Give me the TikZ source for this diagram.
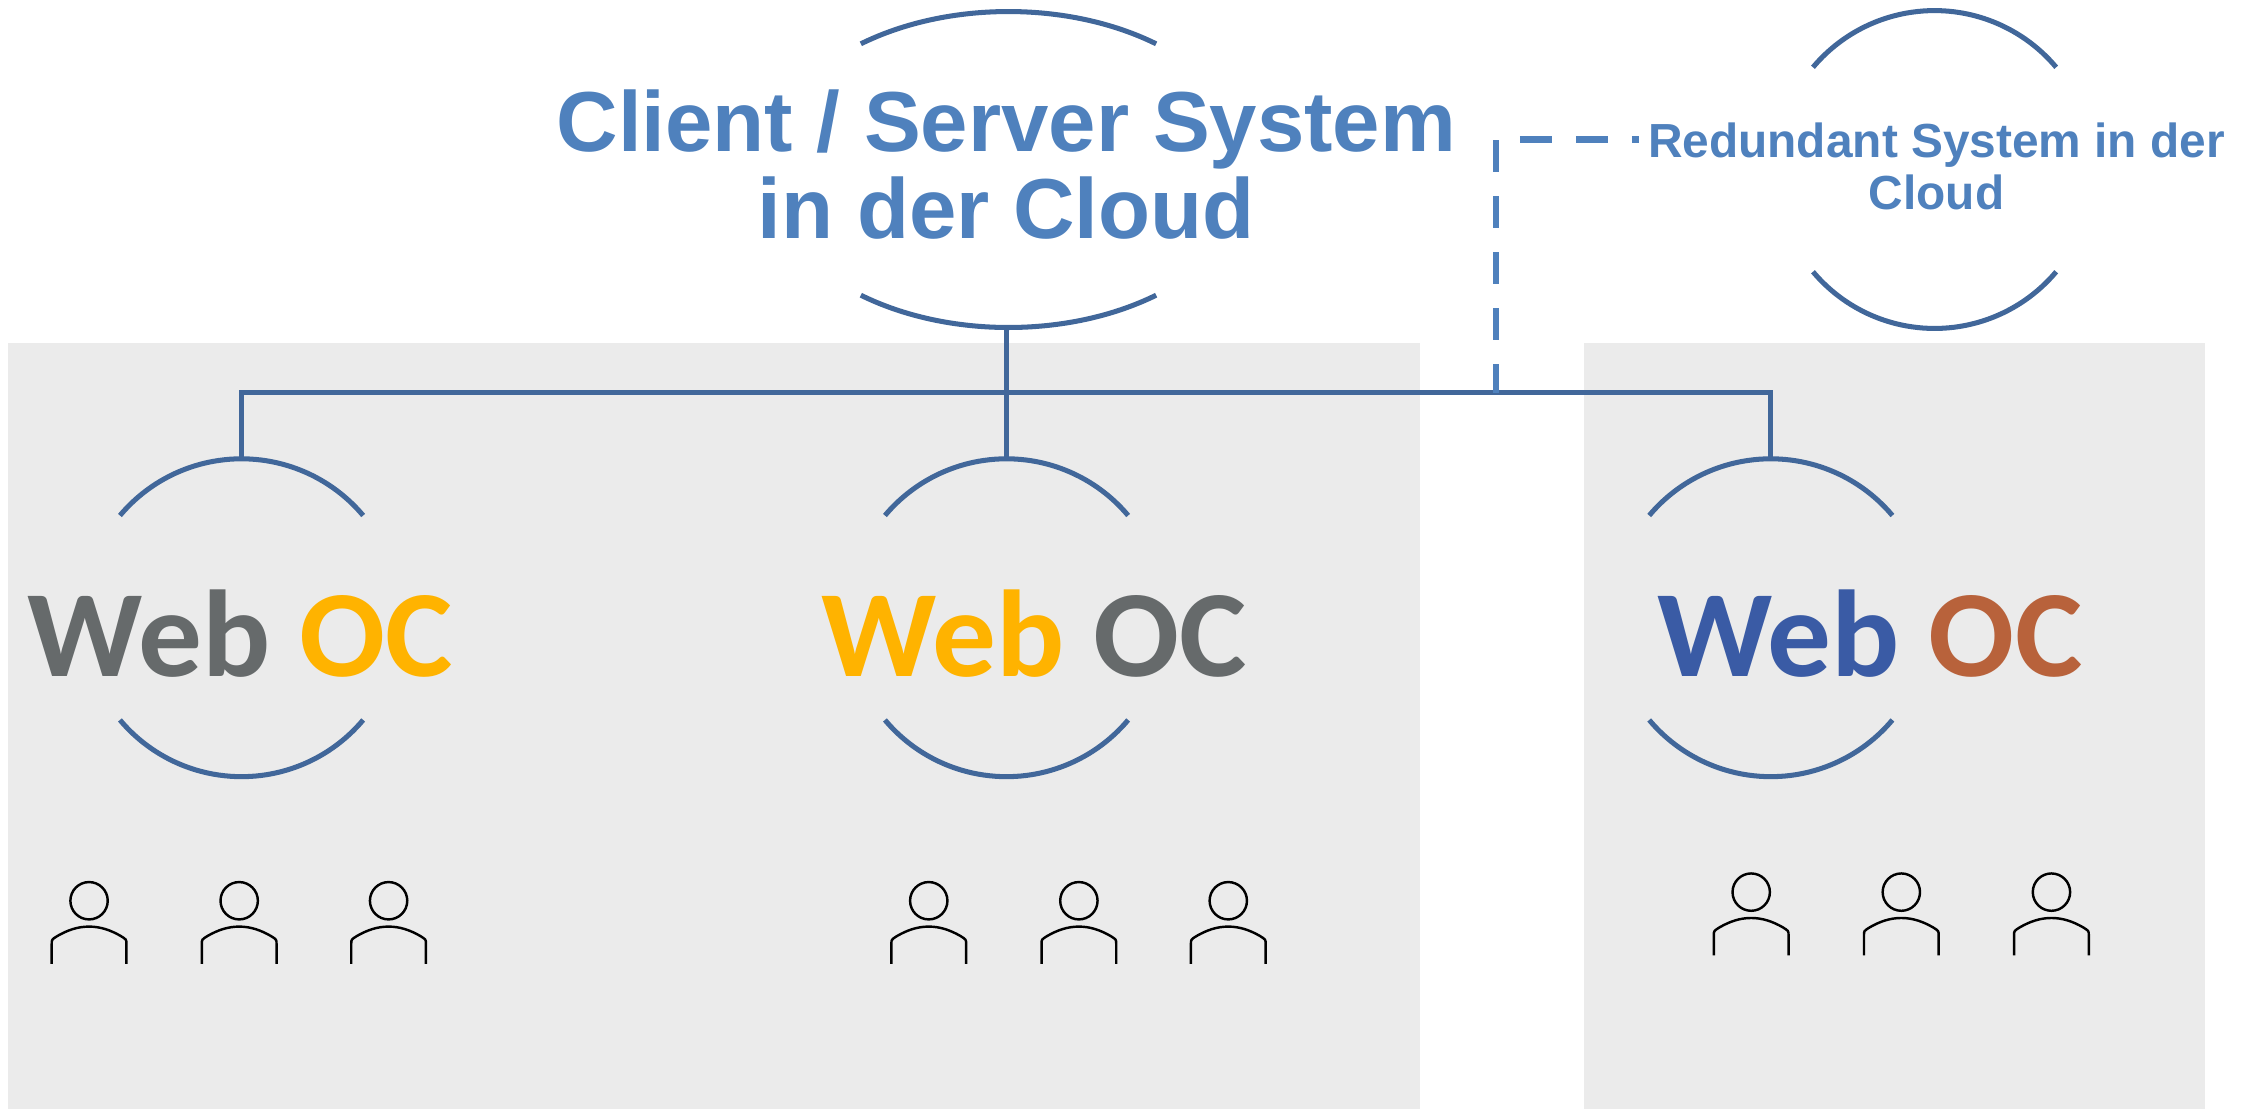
\documentclass[tikz,border=0pt]{standalone}
\usepackage{fontspec}
\setmainfont{Liberation Sans}
\newfontfamily\calibfont[FakeStretch=1.03]{Carlito}
\usetikzlibrary{positioning, shapes.geometric, calc}
\definecolor{colPanel}{HTML}{EBEBEB}
\definecolor{strokeLink}{HTML}{41679A}
\definecolor{colTitle}{HTML}{4F81BD}
\definecolor{colGrey}{HTML}{666A6B}
\definecolor{colAmber}{HTML}{FFB300}
\definecolor{colBlue}{HTML}{3A5BA5}
\definecolor{colRust}{HTML}{B8623B}

\tikzset{
	person/.pic={
		\draw[personline] (0,-13) circle[radius=13pt];
		\draw[personline] (-26,31) -- (-26,17) .. controls (-26,14) .. (-22,11.5) .. controls (-15,7.5) and (-8,5) .. (0,5) .. controls (8,5) and (15,7.5) .. (22,11.5) .. controls (26,14) .. (26,17) -- (26,31);
	}
}

\begin{document}
\begin{tikzpicture}[
	x=1pt, y=-1pt,
	panel/.style={fill=colPanel, anchor=north west, inner sep=0pt, minimum height=533pt},
	ring/.style={circle, inner sep=0pt, minimum size=221pt},
	link/.style={strokeLink, line width=3.5pt},
	ringcap/.style={link},
	redundant/.style={colTitle, line width=4.5pt, dash pattern=on 22pt off 17pt, dash phase=2pt},
	personline/.style={black, line width=1.7pt},
	weblabel/.style={anchor=base, inner sep=0pt, font=\calibfont\bfseries\fontsize{86}{86}\selectfont},
	titlelabel/.style={align=center, inner sep=0pt, text=colTitle, font=\bfseries}
	]
	\useasboundingbox (0,0) rectangle (1569,772.7);
	
	%% ================= PANELS =================
	\node[panel, minimum width=983pt] (panelA) at (5.5,238.5) {};
	\node[panel, minimum width=432pt] (panelB) at (1102.5,238.5) {};
	
	%% ================= SYSTEMS =================
	\node[ellipse, inner sep=0pt, minimum width=340pt, minimum height=221pt] (clientsys) at (700.5,118) {};
	\node[ring] (redsys) at (1346.5,118) {};
	\node[titlelabel, font=\bfseries\fontsize{59.3}{60}\selectfont] (clientlabel) at (700.5,114.5) {Client / Server System\\in der Cloud};
	\node[titlelabel, font=\bfseries\fontsize{33.3}{36}\selectfont] (redlabel) at (1348,116) {Redundant System in der\\Cloud};
	
	%% ================= WEB OC =================
	\node[ring] (webA) at (168,430) {};
	\node[ring] (webB) at (700.5,430) {};
	\node[ring] (webC) at (1232.5,430) {};
	\node[weblabel] (webAlabel) at (167,471) {\textcolor{colGrey}{Web} \textcolor{colAmber}{OC}};
	\node[weblabel] (webBlabel) at (720,471) {\textcolor{colAmber}{Web} \textcolor{colGrey}{OC}};
	\node[weblabel] (webClabel) at (1301.5,471) {\textcolor{colBlue}{Web} \textcolor{colRust}{OC}};
	
	% Ring caps
	\foreach \n in {webA,webB,webC,redsys} {
		\draw[ringcap] (\n.40) arc[start angle=40, end angle=140, radius=110.5pt];
		\draw[ringcap] (\n.-40) arc[start angle=-40, end angle=-140, radius=110.5pt];
	}
	\draw[ringcap] (clientsys.40.5) arc[start angle=52.8, end angle=127.2, x radius=170pt, y radius=110.5pt];
	\draw[ringcap] (clientsys.-40.5) arc[start angle=-52.8, end angle=-127.2, x radius=170pt, y radius=110.5pt];
	
	%% ================= CONNECTORS =================
	\coordinate (bus) at (700.5,273.5);
	\coordinate (redbus) at (1041.5,273.5);
	\coordinate (redend) at (1141,97);
	\draw[link] (clientsys.south) -- (webB.north);
	\draw[link] (webA.north) |- (bus) -| (webC.north);
	\draw[redundant] (redbus) |- (redend);
	
	%% ================= USERS =================
	\foreach \x/\y [count=\i] in {62/627, 166.5/627, 270.5/627, 646.5/627, 751/627, 855/627, 1219/621, 1323.5/621, 1428/621} {
		\pic (user\i) at (\x,\y+13) {person};
	}
\end{tikzpicture}
\end{document}
